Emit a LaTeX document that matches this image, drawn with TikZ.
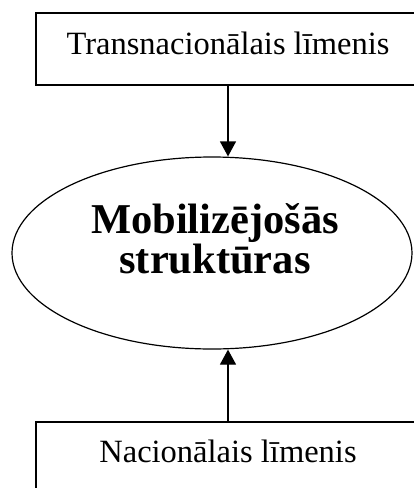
\documentclass[tikz,border=0pt]{standalone}
\usepackage{fontspec}
\setmainfont{Liberation Serif}
\usetikzlibrary{arrows.meta,shapes.geometric}

\begin{document}
\begin{tikzpicture}[
	>={Triangle[width=16pt,length=15pt]},
	line width=1.2pt,
	x=1pt,y=-1pt,
	font=\fontsize{32.5}{32.5}\selectfont,
	levelbox/.style={draw, rectangle, inner sep=0pt, minimum width=384pt, minimum height=72pt},
	strbox/.style={draw, ellipse, inner sep=0pt, minimum width=400pt, minimum height=192pt}
	]
	% page
\useasboundingbox (0,0) rectangle (414,488);
\clip (0,0) rectangle (414,488);

			\node[levelbox] (trans_lim)   at (228, 49) {};
			\node[strbox]   (mob_str)     at (212, 253) {};
			\node[levelbox] (nac_lim)     at (228, 458) {};

			% texts
			\node[anchor=base] (trans_txt) at (228, 54) {Transnacionālais līmenis};
			\node[anchor=base] (nac_txt)   at (228, 462) {Nacionālais līmenis};
			\node[align=center, font=\fontsize{42.5}{40}\selectfont\bfseries] (mob_txt) at (215, 239) {Mobilizējošās\\struktūras};

			\draw[->] (trans_lim.south) -- (trans_lim.south |- mob_str.north);
			\draw[->] (nac_lim.north) -- (nac_lim.north |- mob_str.south);

\end{tikzpicture}
\end{document}
